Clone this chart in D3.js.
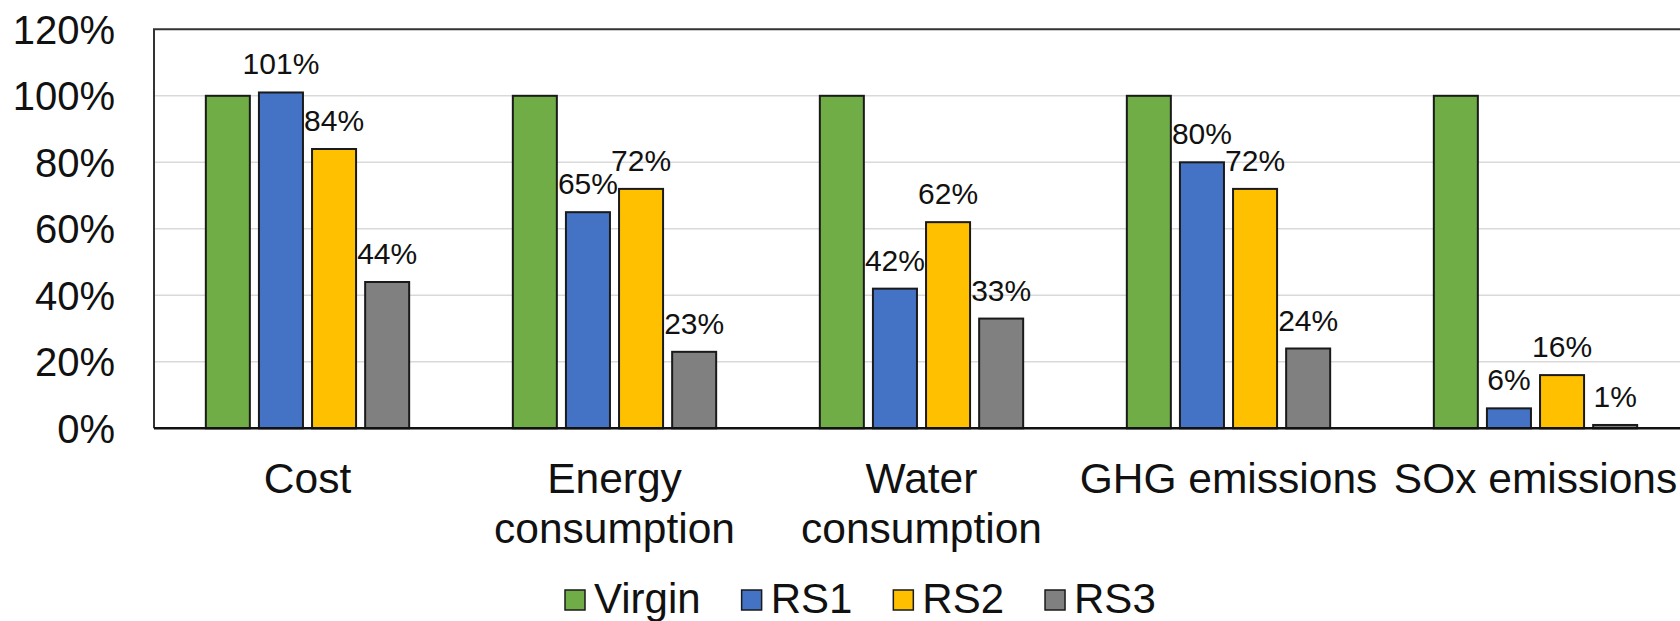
<!DOCTYPE html>
<html lang="en">
  <head>
    <meta charset="utf-8">
    <title>Relative impacts</title>
    <script src="https://cdn.jsdelivr.net/npm/d3@7"></script>
    <style>
      body { margin: 0; background: #fff; }
      text { font-family: 'Liberation Sans', Arial, sans-serif; fill: #111; }
    </style>
  </head>
  <body>
    <div id="chart"></div>
    <script>
      // data (%)
      let categories = ['Cost', 'Energy consumption', 'Water consumption', 'GHG emissions', 'SOx emissions']
      let categoryLines = [['Cost'], ['Energy', 'consumption'], ['Water', 'consumption'], ['GHG emissions'], ['SOx emissions']]
      let seriesNames = ['Virgin', 'RS1', 'RS2', 'RS3']
      let virgin = [100, 100, 100, 100, 100]
      let rs1 = [101, 65, 42, 80, 6]
      let rs2 = [84, 72, 62, 72, 16]
      let rs3 = [44, 23, 33, 24, 1]
      let yTicks = [0, 20, 40, 60, 80, 100, 120]
      let colors = ['#70AD47', '#4472C4', '#FFC000', '#808080']

      let seriesValues = [virgin, rs1, rs2, rs3]
      let width = 1680, height = 621
      let plot = {left: 154, top: 29.3, bottom: 428.3, right: 154 + 5 * 307}

      let svg = d3.select('#chart').append('svg')
        .attr('width', width)
        .attr('height', height)

      let scale_x = d3.scaleBand()
        .domain(categories)
        .range([plot.left, plot.right])
      let scale_s = d3.scaleBand()
        .domain(seriesNames)
        .range([0, scale_x.bandwidth()])
        .paddingInner(0.171)
        .paddingOuter(0.976)
      let scale_y = d3.scaleLinear()
        .domain([0, 120])
        .range([plot.bottom, plot.top])

      // gridlines
      svg.append('g').selectAll('line')
        .data(yTicks.slice(1, -1))
        .enter()
        .append('line')
        .attr('x1', plot.left)
        .attr('x2', plot.right)
        .attr('y1', d => scale_y(d))
        .attr('y2', d => scale_y(d))
        .attr('stroke', '#d9d9d9')
        .attr('stroke-width', 1.5)

      // plot border (top and left)
      svg.append('path')
        .attr('d', 'M' + plot.right + ',' + scale_y(120) + 'H' + plot.left + 'V' + scale_y(0))
        .attr('fill', 'none')
        .attr('stroke', '#333')
        .attr('stroke-width', 2)

      // bars
      let groups = svg.append('g').selectAll('g')
        .data(seriesNames)
        .enter()
        .append('g')

      groups.each(function (name, si) {
        let g = d3.select(this)
        let vals = seriesValues[si].map((v, ci) => ({cat: categories[ci], v: v}))
        g.selectAll('rect')
          .data(vals)
          .enter()
          .append('rect')
          .attr('x', d => scale_x(d.cat) + scale_s(name))
          .attr('width', scale_s.bandwidth())
          .attr('y', d => scale_y(d.v))
          .attr('height', d => scale_y(0) - scale_y(d.v))
          .attr('fill', colors[si])
          .attr('stroke', '#1a1a1a')
          .attr('stroke-width', 2)

        if (si > 0) {
          g.selectAll('text')
            .data(vals)
            .enter()
            .append('text')
            .attr('x', d => scale_x(d.cat) + scale_s(name) + scale_s.bandwidth() / 2)
            .attr('y', d => scale_y(d.v) - 18)
            .attr('text-anchor', 'middle')
            .attr('font-size', '30px')
            .text(d => d.v + '%')
        }
      })

      // x axis line
      svg.append('line')
        .attr('x1', plot.left)
        .attr('x2', plot.right)
        .attr('y1', scale_y(0))
        .attr('y2', scale_y(0))
        .attr('stroke', '#111')
        .attr('stroke-width', 2.5)

      // y axis labels
      let y_axis = d3.axisLeft(scale_y)
        .tickValues(yTicks)
        .tickSize(0)
        .tickPadding(0)
        .tickFormat(d => d + '%')
      let yg = svg.append('g')
        .attr('transform', 'translate(115,0)')
        .call(y_axis)
      yg.select('.domain').remove()
      yg.attr('font-family', null).attr('font-size', null)
      yg.selectAll('text')
        .attr('font-size', '40px')
        .attr('fill', null)
        .attr('dy', '0.35em')

      // x axis labels
      let x_axis = d3.axisBottom(scale_x).tickSize(0).tickFormat('')
      let xg = svg.append('g')
        .attr('transform', 'translate(0,' + scale_y(0) + ')')
        .call(x_axis)
      xg.select('.domain').remove()
      xg.attr('font-family', null).attr('font-size', null)
      xg.selectAll('.tick').each(function (d, i) {
        let t = d3.select(this).select('text')
          .attr('y', 0)
          .attr('dy', null)
          .attr('font-size', '42.5px')
          .attr('fill', null)
        categoryLines[i].forEach((line, li) => {
          t.append('tspan')
            .attr('x', 0)
            .attr('y', 65 + li * 50)
            .text(line)
        })
      })

      // legend
      let legend = svg.append('g')
      let lx = 565
      seriesNames.forEach((name, i) => {
        legend.append('rect')
          .attr('x', lx)
          .attr('y', 590)
          .attr('width', 20)
          .attr('height', 20)
          .attr('fill', colors[i])
          .attr('stroke', '#1a1a1a')
          .attr('stroke-width', 1.5)
        let t = legend.append('text')
          .attr('x', lx + 29)
          .attr('y', 613)
          .attr('font-size', '42px')
          .text(name)
        lx += 29 + t.node().getComputedTextLength() + 41
      })
    </script>
  </body>
</html>
